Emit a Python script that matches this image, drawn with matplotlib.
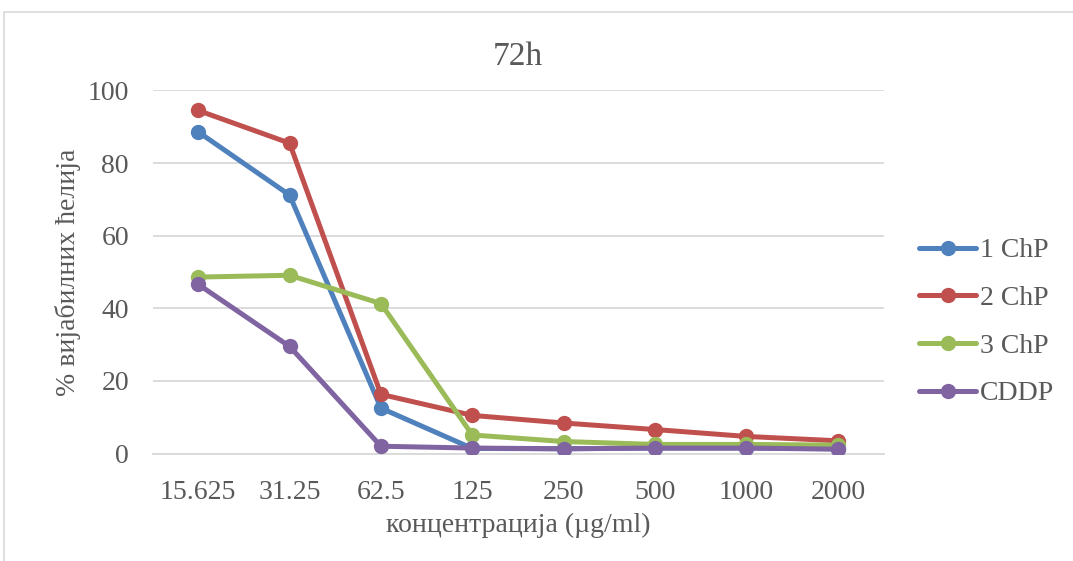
import numpy as np
import matplotlib.pyplot as plt
from matplotlib.patches import Rectangle

# concentrations (µg/ml) and viability (%) after 72h
concentrations = ['15.625', '31.25', '62.5', '125', '250', '500', '1000', '2000']
chp1 = [88.6, 71.2, 12.5, 1.4, 1.3, 1.5, 1.5, 1.3]
chp2 = [94.5, 85.5, 16.3, 10.5, 8.4, 6.6, 4.7, 3.5]
chp3 = [48.6, 49.1, 41.3, 5.1, 3.3, 2.5, 2.5, 2.3]
cddp = [46.6, 29.5, 2.0, 1.5, 1.3, 1.5, 1.5, 1.2]

series = [('1 ChP', chp1, '#4F81BD'),
          ('2 ChP', chp2, '#C0504D'),
          ('3 ChP', chp3, '#9BBB59'),
          ('CDDP', cddp, '#8064A2')]

plt.rcParams['font.family'] = ['Liberation Serif', 'DejaVu Serif']
text_col = '#595959'
fs = 20

fig = plt.figure(figsize=(10.73, 5.61), dpi=100)
ax = fig.add_axes([152.5 / 1073, 1 - 453.5 / 561, 731 / 1073, 363 / 561])

# chart frame
fig.patches.append(Rectangle((4 / 1073, -0.01), 1.1, 1 - 12 / 561 + 0.01,
                             transform=fig.transFigure, fill=False,
                             edgecolor='#D9D9D9', linewidth=1.2))

x = np.arange(len(concentrations))
for name, vals, col in series:
    ax.plot(x, vals, color=col, linewidth=3.6, marker='o', markersize=10,
            label=name, solid_capstyle='round', zorder=3)

ax.set_xlim(-0.5, len(concentrations) - 0.5)
ax.set_ylim(0, 100)
ax.set_yticks(range(0, 101, 20))
ax.set_xticks(x)
ax.set_xticklabels(concentrations)
ax.grid(axis='y', color='#D9D9D9', linewidth=1.3, zorder=0)
ax.set_axisbelow(True)
for s in ['top', 'right', 'left']:
    ax.spines[s].set_visible(False)
ax.spines['bottom'].set_color('#D9D9D9')
ax.spines['bottom'].set_linewidth(1.3)
ax.tick_params(length=0, labelsize=fs, colors=text_col)
ax.tick_params(axis='x', pad=19)
ax.tick_params(axis='y', pad=17)

ax.set_title('72h', fontsize=24, color=text_col, pad=18)
ax.set_xlabel('концентрација (µg/ml)', fontsize=fs, color=text_col, labelpad=6)
ax.set_ylabel('% вијабилних ћелија', fontsize=fs, color=text_col, labelpad=5)

leg = ax.legend(loc='center left', bbox_to_anchor=(1.049, 0.362), frameon=False,
                fontsize=fs, labelspacing=0.8, handlelength=2.05,
                handletextpad=0.12, borderaxespad=0, borderpad=0)
for t in leg.get_texts():
    t.set_color(text_col)

fig.savefig('out.png', dpi=100)
